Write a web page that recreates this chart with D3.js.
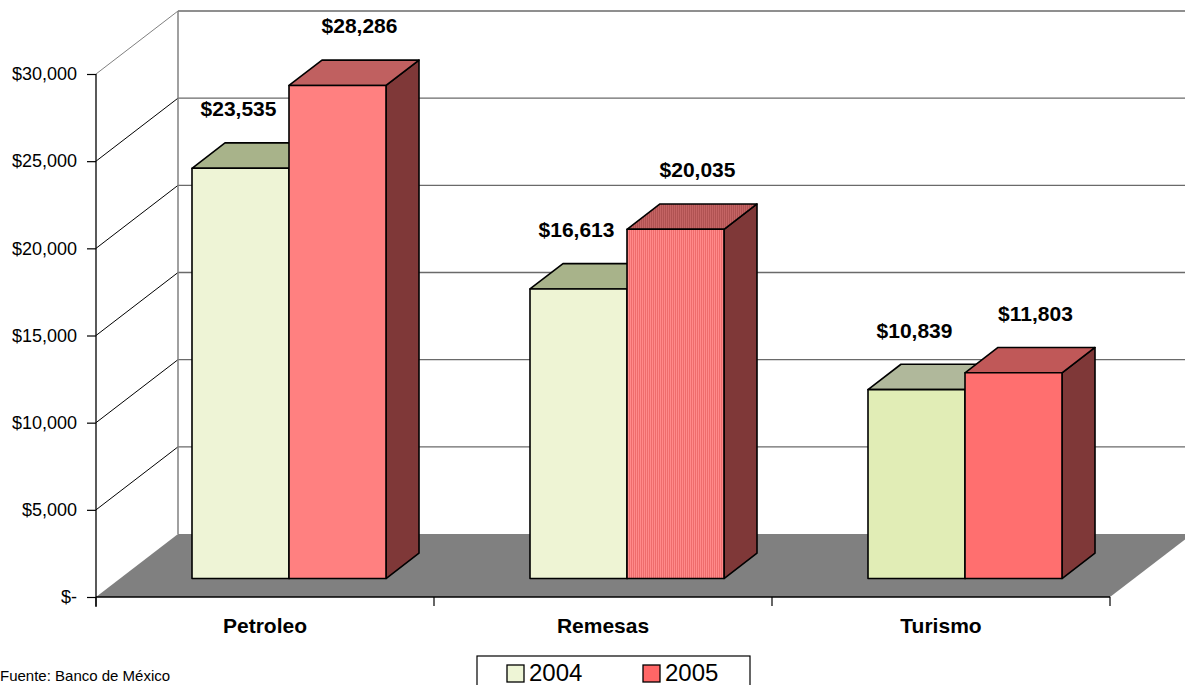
<!DOCTYPE html>
<html>
<head>
    <meta charset="utf-8">
    <title>Ingresos 2004-2005</title>
    <script src="https://d3js.org/d3.v7.min.js"></script>
    <style>
        body { margin: 0; background: #fff; overflow: hidden; }
        svg { display: block; font-family: Arial, "Liberation Sans", sans-serif; }
    </style>
</head>
<body>
    <svg id="chart"></svg>

    <script>
        // data
        const categories = ["Petroleo", "Remesas", "Turismo"];
        const series = ["2004", "2005"];
        const values2004 = [23535, 16613, 10839];
        const values2005 = [28286, 20035, 11803];
        const yTicks = [0, 5000, 10000, 15000, 20000, 25000, 30000];

        // per bar colours (Excel point formatting)
        const front2004 = ["#eef4d6", "#eef4d4", "#e1edb6"];
        const top2004 = ["#a8b38a", "#a8b38a", "#b0b89b"];
        const front2005 = ["#ff8080", "url(#stripes)", "#ff6f6f"];
        const top2005 = ["#c06060", "url(#stripesTop)", "#c05858"];
        const sideColor = "#7f3838";

        const width = 1185;
        const height = 685;

        // 3d look
        const wallDepth = 82;          // floor depth in px along x
        const slope = 63 / 82;         // dy per dx of the depth axis
        const barFront = 24;           // depth of bar front face
        const barDepth = 33;

        const svg = d3.select("#chart")
            .attr("width", width)
            .attr("height", height);

        const defs = svg.append("defs");
        const pat = defs.append("pattern").attr("id", "stripes")
            .attr("patternUnits", "userSpaceOnUse").attr("width", 2).attr("height", 4);
        pat.append("rect").attr("width", 2).attr("height", 4).attr("fill", "#ff8a8a");
        pat.append("rect").attr("x", 1).attr("width", 1).attr("height", 4).attr("fill", "#ee6c6c");
        const pat2 = defs.append("pattern").attr("id", "stripesTop")
            .attr("patternUnits", "userSpaceOnUse").attr("width", 2).attr("height", 4);
        pat2.append("rect").attr("width", 2).attr("height", 4).attr("fill", "#c46464");
        pat2.append("rect").attr("x", 1).attr("width", 1).attr("height", 4).attr("fill", "#b05252");

        // scales (front plane)
        const y = d3.scaleLinear().domain([0, 30000]).range([597, 74]);
        const x0 = d3.scaleBand().domain(categories).range([96, 1110]);
        const x1 = d3.scaleBand().domain(series).range([72, 266]);

        // project a front-plane point back by depth d
        const P = (x, v, d) => [x + d, y(v) - d * slope];
        const poly = pts => pts.map(p => p.join(",")).join(" ");

        // floor
        svg.append("polygon")
            .attr("points", poly([P(96, 0, 0), P(1110, 0, 0), P(1110, 0, wallDepth), P(96, 0, wallDepth)]))
            .attr("fill", "#808080");

        // walls: back wall lines and side wall diagonals
        const grid = yTicks.filter(t => t > 0);
        svg.selectAll(".hgrid").data(grid).enter().append("line")
            .attr("x1", P(96, 0, wallDepth)[0]).attr("x2", width + 10)
            .attr("y1", d => P(96, d, wallDepth)[1]).attr("y2", d => P(96, d, wallDepth)[1])
            .attr("stroke", "#6a6a6a").attr("stroke-width", 1.3);
        svg.selectAll(".dgrid").data(grid).enter().append("line")
            .attr("x1", 96).attr("y1", d => y(d))
            .attr("x2", P(96, 0, wallDepth)[0]).attr("y2", d => P(96, d, wallDepth)[1])
            .attr("stroke", d => d === 30000 ? "#808080" : "#000").attr("stroke-width", 1);
        svg.append("line")
            .attr("x1", P(96, 0, wallDepth)[0]).attr("x2", P(96, 0, wallDepth)[0])
            .attr("y1", P(96, 30000, wallDepth)[1]).attr("y2", P(96, 0, wallDepth)[1])
            .attr("stroke", "#808080").attr("stroke-width", 1.5);

        // bars
        const rows = categories.map((c, i) => ({
            cat: c, i,
            bars: [
                { s: "2004", v: values2004[i], front: front2004[i], top: top2004[i], labelDx: -2 },
                { s: "2005", v: values2005[i], front: front2005[i], top: top2005[i], labelDx: 22 }
            ]
        }));

        rows.forEach(r => {
            r.bars.forEach(b => {
                const xl = x0(r.cat) + x1(b.s);
                const xr = xl + x1.bandwidth();
                const d1 = barFront, d2 = barFront + barDepth;
                const g = svg.append("g")
                    .attr("stroke", "#000").attr("stroke-width", 1.6).attr("stroke-linejoin", "round");
                // side
                g.append("polygon")
                    .attr("points", poly([P(xr, 0, d1), P(xr, 0, d2), P(xr, b.v, d2), P(xr, b.v, d1)]))
                    .attr("fill", sideColor);
                // top
                g.append("polygon")
                    .attr("points", poly([P(xl, b.v, d1), P(xr, b.v, d1), P(xr, b.v, d2), P(xl, b.v, d2)]))
                    .attr("fill", b.top);
                // front
                g.append("polygon")
                    .attr("points", poly([P(xl, 0, d1), P(xr, 0, d1), P(xr, b.v, d1), P(xl, b.v, d1)]))
                    .attr("fill", b.front);
                // value label
                const backTop = P(xl, b.v, d2)[1];
                svg.append("text")
                    .attr("x", (xl + xr) / 2 + d1 + b.labelDx)
                    .attr("y", backTop - 34)
                    .attr("dy", "0.35em")
                    .attr("text-anchor", "middle")
                    .attr("font-size", 21)
                    .attr("font-weight", "bold")
                    .text("$" + d3.format(",")(b.v));
            });
        });

        // front floor edge
        svg.append("line")
            .attr("x1", 96).attr("x2", 1110).attr("y1", y(0)).attr("y2", y(0))
            .attr("stroke", "#000").attr("stroke-width", 1.3);

        // y axis
        const yAxis = svg.append("g")
            .attr("transform", "translate(96,0)")
            .call(d3.axisLeft(y).tickValues(yTicks).tickSize(9).tickPadding(10)
                .tickFormat(d => d === 0 ? "$-" : "$" + d3.format(",")(d)));
        yAxis.select(".domain").remove();
        yAxis.selectAll("line").attr("stroke", "#000").attr("stroke-width", 1.2);
        yAxis.selectAll("text").attr("font-size", 18).attr("fill", "#000")
            .attr("font-family", "Arial, 'Liberation Sans', sans-serif");
        svg.append("line")
            .attr("x1", 96).attr("x2", 96).attr("y1", y(30000)).attr("y2", y(0) + 10)
            .attr("stroke", "#000").attr("stroke-width", 1.3);

        // category axis ticks at band edges
        const edges = categories.map(c => x0(c)).concat([x0.range()[1]]);
        svg.selectAll(".ctick").data(edges).enter().append("line")
            .attr("x1", d => d).attr("x2", d => d)
            .attr("y1", y(0)).attr("y2", y(0) + 9)
            .attr("stroke", "#000").attr("stroke-width", 1.2);
        svg.selectAll(".clabel").data(categories).enter().append("text")
            .attr("x", d => x0(d) + x0.bandwidth() / 2)
            .attr("y", 633)
            .attr("text-anchor", "middle")
            .attr("font-size", 21)
            .attr("font-weight", "bold")
            .text(d => d);

        // legend
        const legend = svg.append("g").attr("transform", "translate(477,656)");
        legend.append("rect")
            .attr("width", 273).attr("height", 50)
            .attr("fill", "#fff").attr("stroke", "#000").attr("stroke-width", 1.2);
        const legendColors = ["#eef5d6", "#ff6666"];
        series.forEach((s, i) => {
            const gx = 30 + i * 136;
            legend.append("rect")
                .attr("x", gx).attr("y", 9).attr("width", 17).attr("height", 17)
                .attr("fill", legendColors[i]).attr("stroke", "#000").attr("stroke-width", 1.3);
            legend.append("text")
                .attr("x", gx + 22).attr("y", 25)
                .attr("font-size", 24)
                .text(s);
        });

        // source
        svg.append("text")
            .attr("x", 0).attr("y", 681)
            .attr("font-size", 15)
            .text("Fuente: Banco de México");
    </script>
</body>
</html>
